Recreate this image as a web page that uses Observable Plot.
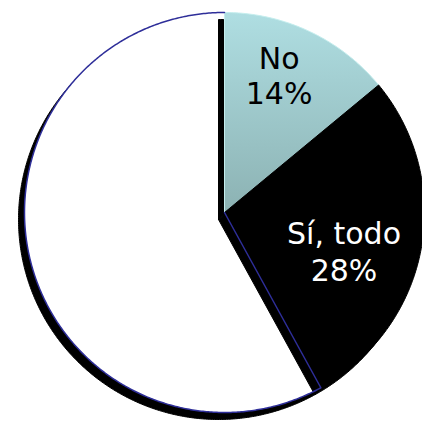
<!DOCTYPE html>
<html><head><meta charset="utf-8">
<script src="https://cdn.jsdelivr.net/npm/d3@7"></script>
<script src="https://cdn.jsdelivr.net/npm/@observablehq/plot@0.6"></script>
<style>html,body{margin:0;padding:0;background:#fff;overflow:hidden}#chart svg{display:block;max-width:none;overflow:hidden}</style>
</head><body><div id="chart"></div>
<script>
// --- data ---
const categories = ["No", "Sí, todo", "Sí, en parte"];
const values = [14, 28, 58];
const percentLabels = ["14%", "28%", ""];

// --- layout constants ---
const W = 422, H = 421, CX = 224, CY = 212, R = 200;
const SHADOW_DX = -6, SHADOW_DY = 7;

const pie = d3.pie().sort(null).startAngle(0).endAngle(2 * Math.PI)(values);

// polygon rows in unit-circle coordinates (angle clockwise from 12 o'clock)
function slicePoints(a0, a1, closed) {
  const pts = [[0, 0]];
  const n = Math.max(2, Math.ceil((a1 - a0) / (Math.PI / 360)));
  for (let k = 0; k <= n; k++) {
    const a = a0 + (a1 - a0) * k / n;
    pts.push([Math.sin(a), Math.cos(a)]);
  }
  if (closed) pts.push([0, 0]);
  return pts;
}
const rows = [];
pie.forEach((p, i) => {
  slicePoints(p.startAngle, p.endAngle, true).forEach(([x, y]) => rows.push({cat: categories[i], x, y}));
});
// white slice outline drawn open (center -> start edge -> arc)
const wp = pie[2];
const outlineRows = slicePoints(wp.startAngle, wp.endAngle, false).map(([x, y]) => ({x, y}));

const labelRows = pie.map((p, i) => {
  const a = (p.startAngle + p.endAngle) / 2;
  return {cat: categories[i], x: 0.7 * Math.sin(a), y: 0.7 * Math.cos(a),
          text: percentLabels[i] ? categories[i] + "\n" + percentLabels[i] : ""};
});

const only = c => rows.filter(d => d.cat === c);
const notWhite = rows.filter(d => d.cat !== categories[2]);

const svg = Plot.plot({
  width: W, height: H,
  margin: 0, marginTop: 0, marginRight: 0, marginBottom: 0, marginLeft: 0,
  x: {domain: [-CX / R, (W - CX) / R], axis: null},
  y: {domain: [-(H - CY) / R, CY / R], axis: null},
  style: {background: "#fff", overflow: "hidden"},
  marks: [
    Plot.line(only(categories[2]), {x: "x", y: "y", fill: "black", stroke: "black", strokeWidth: 1, dx: SHADOW_DX, dy: SHADOW_DY}),
    Plot.line(only(categories[2]), {x: "x", y: "y", fill: "white", stroke: "none"}),
    Plot.line(notWhite, {x: "x", y: "y", z: "cat", fill: "black", stroke: "black", strokeWidth: 1, dx: SHADOW_DX, dy: SHADOW_DY}),
    Plot.line(only(categories[0]), {x: "x", y: "y", fill: "url(#noGrad)", stroke: "#c4eeee", strokeWidth: 1}),
    Plot.line(only(categories[1]), {x: "x", y: "y", fill: "black", stroke: "black", strokeWidth: 1}),
    Plot.line(outlineRows, {x: "x", y: "y", stroke: "#2e2e99", strokeWidth: 1.5, fill: "none"}),
    Plot.text(labelRows.filter(d => d.cat === categories[0]), {x: "x", y: "y", text: "text", fill: "black",
      fontSize: 30, fontFamily: "DejaVu Sans", lineHeight: 1.17, dx: -5, dy: -11}),
    Plot.text(labelRows.filter(d => d.cat === categories[1]), {x: "x", y: "y", text: "text", fill: "white",
      fontSize: 30, fontFamily: "DejaVu Sans", lineHeight: 1.23, dx: -18, dy: 12})
  ]
});

const defs = d3.select(svg).insert("defs", ":first-child");
const g = defs.append("linearGradient").attr("id", "noGrad")
  .attr("x1", 0).attr("y1", 0).attr("x2", 0).attr("y2", 1);
g.append("stop").attr("offset", "0%").attr("stop-color", "#afdee2");
g.append("stop").attr("offset", "100%").attr("stop-color", "#8cb2b3");

document.getElementById("chart").appendChild(svg);
</script>
</body></html>
